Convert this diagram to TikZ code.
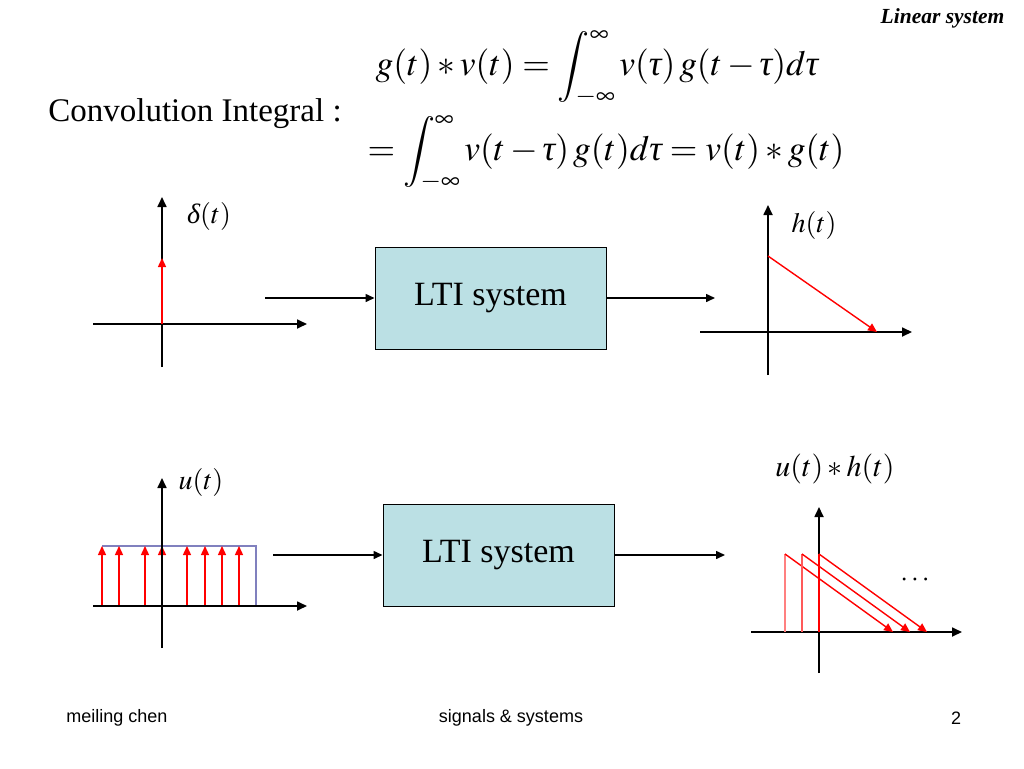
\documentclass[tikz,border=0pt]{standalone}
\usepackage{mathptmx}
\usepackage{fontspec}
\setmainfont{Liberation Serif}
\newfontfamily\footfont{Liberation Sans}
\usetikzlibrary{positioning,arrows.meta}
\definecolor{ltiblue}{RGB}{187,224,228}
\definecolor{steppurple}{RGB}{128,128,190}
% italic greek from the text font
\newcommand{\itau}{\mbox{\itshape τ}}
\newcommand{\idelta}{\mbox{\itshape δ}}

\begin{document}
\begin{tikzpicture}[x=1pt,y=-1pt,>=Stealth,
    axis/.style={line width=1.7pt,-{Triangle[length=10pt,width=9pt]}},
    flow/.style={line width=1.5pt,-{Triangle[length=9pt,width=8pt]}},
    sig/.style={red,line width=1.4pt,-{Triangle[length=9pt,width=8pt]}},
    ltibox/.style={draw,line width=1pt,fill=ltiblue,minimum width=231pt,
      minimum height=102pt,font=\fontsize{34}{40}\selectfont},
    eqtext/.style={inner sep=0pt,font=\fontsize{33}{40}\selectfont},
    plotlabel/.style={font=\fontsize{28}{32}\selectfont},
    foot/.style={font=\footfont\fontsize{18}{22}\selectfont}]
  \useasboundingbox (0,0) rectangle (1024,768);

  % header and convolution integral
  \node (title) at (942.5,18) {\fontsize{21.5}{24}\selectfont\bfseries\itshape Linear system};
  \node[eqtext,font=\fontsize{35.5}{42}\selectfont] (eqa) at (597,68)
    {$\displaystyle g(t)\ast v(t)=\int_{-\infty}^{\infty} v(\itau)\,g(t-\itau)d\itau$};
  \node[eqtext,font=\fontsize{35.5}{42}\selectfont] (eqb) at (606,153)
    {$\displaystyle =\int_{-\infty}^{\infty} v(t-\itau)\,g(t)d\itau=v(t)\ast g(t)$};
  \node[eqtext] (conv) at (195,114) {Convolution Integral :};

  % impulse response
  \node[ltibox] (sys1) at (490.5,298) {LTI system};
  \coordinate (in1) at (265,298);
  \coordinate (out1) at (715,298);
  \draw[flow] (in1) -- (sys1.west);
  \draw[flow] (sys1.east) -- (out1);

  \begin{scope}[shift={(162,324)}]
    \draw[axis] (-69,0) -- (145,0);
    \draw[axis] (0,43) -- (0,-127);
    \draw[sig] (0,0) -- (0,-66);
  \end{scope}
  \node[plotlabel] (delta) at (209,216) {$\idelta(t)$};

  \begin{scope}[shift={(768,332)}]
    \draw[axis] (-68,0) -- (144,0);
    \draw[axis] (0,43) -- (0,-127);
    \draw[sig] (0,-76) -- (109,0);
  \end{scope}
  \node[plotlabel] (hout) at (814,225) {$h(t)$};

  % step response
  \node[ltibox] (sys2) at (498.5,555) {LTI system};
  \coordinate (in2) at (273,555);
  \coordinate (out2) at (725,555);
  \draw[flow] (in2) -- (sys2.west);
  \draw[flow] (sys2.east) -- (out2);

  \begin{scope}[shift={(162,606)}]
    \draw[steppurple,line width=1.2pt] (-60,-60) -- (94,-60) -- (94,0);
    \foreach \x in {-60,-43,-17,0,25,43,60,77}
      \draw[sig] (\x,0) -- (\x,-60);
    \draw[axis] (-69,0) -- (145,0);
    \draw[axis] (0,42) -- (0,-128);
  \end{scope}
  \node[plotlabel] (uin) at (201,482) {$u(t)$};

  \begin{scope}[shift={(819,632)}]
    \draw[axis] (-68,0) -- (143,0);
    \draw[axis] (0,41) -- (0,-125);
    \foreach \x/\c in {-34/red!50,-17/red!65,0/red} {
      \draw[\c,line width=1.2pt] (\x,0) -- (\x,-78);
      \draw[sig] (\x,-78) -- (\x+108,0);
    }
  \end{scope}
  \node[plotlabel,font=\fontsize{30}{34}\selectfont] (uhout) at (835,469) {$u(t)\ast h(t)$};
  \node[plotlabel] (dots) at (915,580) {$\cdots$};

  % footer
  \node[foot] (author) at (117,718) {meiling chen};
  \node[foot] (course) at (511,718) {signals \& systems};
  \node[foot] (page) at (956,718) {2};
\end{tikzpicture}
\end{document}
